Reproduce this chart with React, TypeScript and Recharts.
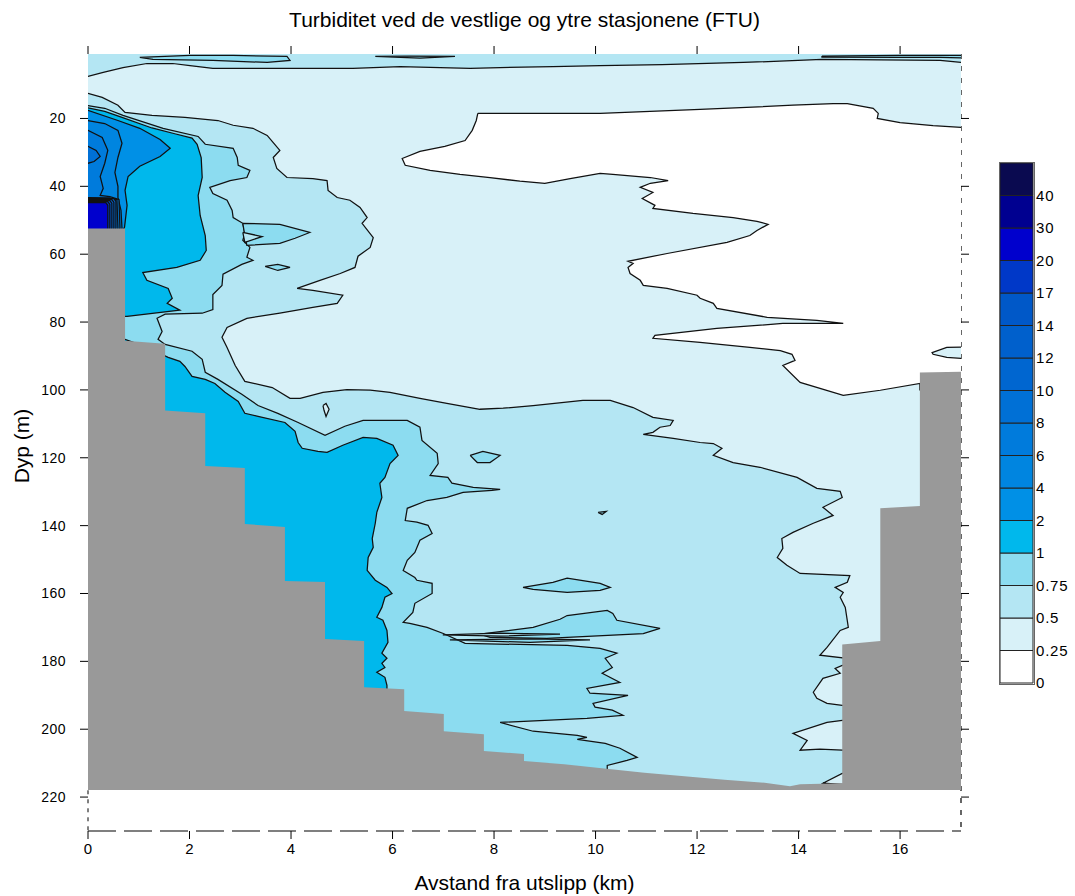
import React from "react";
import { ScatterChart, Scatter, XAxis, YAxis, ReferenceLine, BarChart, Bar } from "recharts";

type Pt = [number, number]; // [distance km, depth m]

const FONT = '"Liberation Sans", Arial, sans-serif';

// colour scale (FTU)
const levelLabels = ["0", "0.25", "0.5", "0.75", "1", "2", "4", "6", "8", "10", "12", "14", "17", "20", "30", "40"];
const levelColors = [
  "#ffffff", "#d8f1f8", "#b4e6f3", "#8cdcf0", "#00b8ec", "#0090e6", "#0085e0", "#007bdc",
  "#0070d6", "#0066d0", "#0060cc", "#0058c8", "#0038c8", "#0000cd", "#000090", "#0a0a50",
];

const distTicks = [0, 2, 4, 6, 8, 10, 12, 14, 16];
const depthTicks = [20, 40, 60, 80, 100, 120, 140, 160, 180, 200, 220];

// water column behind everything (0.25 - 0.5)
const waterBox: Pt[] = [[-0.5, -5], [17.7, -5], [17.7, 217.9], [-0.5, 217.9]];

// 0.5 contour near surface
const topBand: Pt[] = [
  [-0.5, -5], [17.7, -5], [17.7, 3.5], [17.2, 3.5], [16.79, 2.9], [14.46, 2.6], [12.91, 3.5], [11.31, 4.1],
  [10.09, 4.4], [9.16, 4.7], [7.53, 5.2], [6.15, 4.7], [5.22, 5.2], [2.46, 5.2], [2.01, 4.4], [1.67, 3.8],
  [1.16, 3.8], [0.69, 5.0], [0.3, 6.4], [0, 7.6], [-0.5, 7.9],
];
const topLensA: Pt[] = [[1.02, 2.0], [2.01, 1.4], [2.86, 1.4], [3.92, 1.7], [3.98, 2.9], [3.53, 3.5], [2.46, 2.9], [1.28, 2.6]];
const topLensB: Pt[] = [[5.66, 1.7], [6.34, 1.6], [7.23, 1.7], [6.54, 2.2]];
const topLensC: Pt[] = [[14.46, 1.6], [16.0, 1.4], [17.5, 1.4], [17.5, 2.2], [16.79, 2.0], [16.0, 2.0], [14.46, 1.9]];

// 0.5 contour, plume and bottom water
const c050: Pt[] = [
  [-0.5, 12.4], [0, 12.6], [0.28, 13.8], [0.59, 16.1], [0.73, 18.2], [1.26, 19.1], [1.91, 19.7], [2.56, 20.6],
  [2.86, 22.0], [3.25, 22.9], [3.53, 25.0], [3.65, 27.1], [3.78, 29.4], [3.65, 31.5], [3.72, 34.7], [3.92, 37.4],
  [4.43, 37.7], [4.71, 38.3], [4.73, 41.2], [4.91, 43.3], [5.16, 44.1], [5.36, 46.2], [5.5, 49.2], [5.4, 50.9],
  [5.62, 55.1], [5.56, 58.0], [5.32, 60.6], [5.26, 63.9], [4.97, 65.7], [4.57, 67.7], [4.12, 70.1], [4.43, 70.7],
  [5.02, 72.1], [4.91, 74.5], [4.43, 75.7], [3.78, 77.4], [3.13, 78.9], [2.74, 81.6], [2.64, 84.5], [2.74, 87.5],
  [2.9, 92.8], [3.09, 97.5], [3.63, 99.3], [3.98, 102.5], [4.18, 102.5], [4.63, 100.7], [5.1, 99.9], [5.56, 100.1],
  [5.95, 100.7], [6.54, 102.5], [7.07, 104.0], [7.72, 105.7], [8.18, 105.4], [8.77, 104.6], [9.75, 103.1],
  [10.29, 103.1], [10.74, 105.2], [11.13, 108.1], [11.53, 109.0], [11.47, 110.5], [11.27, 111.0], [11.13, 112.5],
  [10.94, 113.1], [11.53, 114.3], [12.06, 115.5], [12.32, 115.8], [12.49, 117.2], [12.32, 119.3], [12.71, 121.4],
  [13.24, 122.8], [13.97, 125.8], [14.36, 129.0], [14.82, 129.9], [14.86, 131.7], [14.48, 134.6], [14.68, 137.0],
  [14.29, 139.3], [13.89, 142.0], [13.67, 143.8], [13.69, 146.7], [13.58, 149.4], [13.77, 151.7], [14.03, 154.1],
  [15.01, 154.7], [14.96, 156.7], [14.72, 158.2], [14.88, 159.7], [14.82, 161.1], [14.92, 164.1], [14.98, 170.0],
  [14.82, 170.9], [14.56, 175.9], [14.42, 178.2], [14.95, 179.1], [14.95, 217.5], [-0.5, 217.5],
];
const holeA: Pt[] = [[4.63, 104.6], [4.69, 104.0], [4.75, 105.7], [4.69, 107.8], [4.65, 106.0]];
const sideLensA: Pt[] = [[15.1, 181.2], [14.86, 181.2], [14.72, 182.1], [14.82, 183.5], [14.48, 185.0], [14.29, 189.1], [14.36, 190.9], [14.56, 192.4], [14.86, 193.0], [15.1, 193.0]];
const sideLensB: Pt[] = [[15.1, 197.4], [14.86, 197.4], [14.56, 198.0], [13.89, 201.2], [14.17, 203.3], [14.03, 206.2], [14.42, 205.9], [14.86, 206.2], [15.1, 206.2]];
const sideLensC: Pt[] = [[15.1, 213.0], [14.86, 213.0], [14.48, 215.9], [15.1, 216.5]];

// below 0.25
const clearWater: Pt[] = [
  [7.68, 18.5], [8.91, 18.5], [10.09, 18.5], [12.06, 17.3], [13.89, 16.1], [14.68, 15.6], [14.96, 15.6],
  [15.47, 17.0], [15.57, 18.5], [15.55, 20.0], [16.0, 21.2], [16.65, 22.1], [17.2, 22.6], [17.5, 22.7],
  [17.5, 100], [16.39, 100], [16.39, 98.1], [15.61, 100.1], [14.88, 101.6], [14.03, 97.8], [13.69, 92.8],
  [13.93, 91.3], [13.87, 89.5], [13.64, 88.4], [13.04, 87.5], [12.06, 86.0], [11.13, 84.8], [11.17, 83.9],
  [12.39, 81.9], [13.69, 80.4], [14.88, 80.4], [14.36, 79.5], [13.38, 78.6], [12.39, 76.0], [12.32, 74.5],
  [12.06, 73.0], [12.0, 72.1], [11.41, 70.1], [10.94, 69.2], [10.88, 67.7], [10.68, 65.7], [10.64, 63.9],
  [10.74, 62.7], [10.64, 62.1], [11.41, 59.8], [12.59, 56.5], [13.04, 54.5], [13.18, 53.0], [13.4, 51.2],
  [13.18, 50.3], [12.71, 49.2], [11.92, 48.0], [11.13, 46.5], [11.17, 45.6], [10.92, 43.6], [11.13, 41.8],
  [10.88, 40.3], [11.08, 39.1], [11.43, 38.3], [11.08, 37.4], [10.34, 36.5], [10.09, 36.2], [9.5, 37.7],
  [9.0, 39.1], [8.51, 38.5], [7.92, 37.4], [7.33, 36.5], [6.74, 35.3], [6.25, 33.8], [6.19, 31.8], [6.54, 29.7],
  [7.03, 28.2], [7.43, 26.5], [7.57, 23.5], [7.65, 20.6],
];
const clearLens: Pt[] = [[17.5, 87.2], [16.92, 87.5], [16.63, 89.0], [16.65, 89.5], [16.92, 90.4], [17.5, 91.0]];

// 0.75 contour
const c075: Pt[] = [
  [-0.5, 16.0], [0, 16.2], [0.33, 17.0], [0.69, 19.1], [1.48, 22.9], [2.17, 25.3], [2.31, 27.6], [2.86, 28.8],
  [2.94, 31.5], [2.96, 33.8], [3.19, 35.3], [3.13, 37.4], [2.8, 38.3], [2.4, 40.3], [2.46, 42.1], [2.74, 44.1],
  [2.84, 47.1], [2.86, 49.2], [3.05, 50.9], [3.09, 53.9], [3.05, 55.9], [3.19, 58.0], [3.13, 60.9], [3.25, 61.8],
  [3.03, 63.0], [2.66, 65.9], [2.64, 69.2], [2.46, 71.9], [2.46, 76.3], [2.25, 77.4], [1.52, 77.7], [1.36, 78.9],
  [1.46, 82.8], [1.38, 85.1], [1.52, 86.6], [2.05, 88.6], [2.25, 91.0], [2.31, 94.8], [2.56, 96.9], [3.03, 101.3],
  [3.35, 104.6], [3.74, 106.9], [4.14, 109.6], [4.67, 113.4], [5.06, 110.7], [5.42, 109.0], [5.85, 109.0],
  [6.29, 109.0], [6.54, 111.0], [6.58, 114.9], [6.88, 118.7], [6.9, 121.7], [6.74, 125.2], [7.09, 125.8],
  [7.17, 127.5], [7.59, 128.7], [8.12, 129.3], [7.96, 129.6], [7.39, 130.2], [7.07, 131.7], [6.68, 132.6],
  [6.29, 134.9], [6.25, 138.5], [6.48, 139.0], [6.7, 139.9], [6.78, 142.3], [6.54, 144.3], [6.44, 147.9],
  [6.29, 150.2], [6.21, 153.2], [6.44, 155.3], [6.48, 156.1], [6.78, 157.0], [6.78, 160.0], [6.44, 162.9],
  [6.4, 165.6], [6.21, 168.5], [6.34, 168.8], [6.68, 170.0], [7.0, 171.8], [7.43, 174.7], [9.44, 175.3],
  [10.09, 176.2], [10.42, 177.6], [10.19, 179.1], [10.33, 181.8], [10.13, 183.5], [10.48, 186.2], [9.83, 188.0],
  [9.89, 189.4], [10.64, 190.0], [9.95, 192.4], [9.99, 193.5], [10.33, 194.4], [10.54, 195.9], [9.83, 196.8],
  [8.12, 198.0], [8.77, 200.6], [9.64, 201.8], [9.83, 202.4], [9.64, 203.0], [10.19, 204.2], [10.48, 205.6],
  [10.82, 208.3], [10.62, 209.2], [10.23, 210.7], [10.23, 217.5], [-0.5, 217.5],
];
const spikeLens: Pt[] = [[3.05, 50.9], [3.78, 51.2], [4.37, 53.6], [4.08, 55.3], [3.78, 56.8], [3.13, 57.4], [3.09, 54.5]];
const spikeInner: Pt[] = [[3.05, 53.6], [3.43, 54.8], [3.09, 56.5]];
const tinyLens: Pt[] = [[3.49, 63.6], [3.74, 63.0], [3.98, 63.9], [3.74, 64.8]];
const smallLens: Pt[] = [[7.53, 119.3], [7.78, 118.1], [8.12, 119.3], [7.92, 121.4], [7.67, 121.4]];
const dotLens: Pt[] = [[10.05, 136.1], [10.21, 135.8], [10.13, 136.7]];
const midLens: Pt[] = [[8.57, 158.2], [9.16, 156.7], [9.44, 155.5], [10.09, 157.0], [10.29, 158.2], [10.09, 159.1], [9.44, 159.7], [8.77, 158.8]];
const upperLens: Pt[] = [[7.72, 172.0], [8.77, 170.0], [9.3, 167.6], [9.44, 166.5], [10.23, 165.0], [10.34, 165.9], [10.42, 167.9], [11.27, 170.3], [10.94, 171.8], [10.34, 172.3], [9.04, 173.2], [7.92, 172.9]];
const sliverA: Pt[] = [[6.99, 172.2], [8.12, 171.7], [9.3, 172.0], [8.12, 172.6]];
const sliverB: Pt[] = [[7.13, 173.7], [8.71, 173.4], [9.89, 173.7], [8.71, 174.4]];

// 1.0 contour
const c100Upper: Pt[] = [
  [-0.5, 16.8], [0, 16.9], [0.33, 17.9], [0.67, 19.7], [1.26, 22.8], [1.71, 24.5], [2.05, 25.8], [2.15, 27.6],
  [2.23, 31.5], [2.25, 37.4], [2.17, 42.7], [2.21, 48.6], [2.31, 54.5], [2.33, 58.9], [2.21, 61.8], [1.75, 63.9],
  [1.08, 65.4], [1.16, 67.7], [1.58, 70.1], [1.66, 73.0], [1.56, 74.5], [1.81, 76.5], [0.77, 78.3], [0.5, 78.3], [-0.5, 78.3],
];
const c100Lower: Pt[] = [
  [0.5, 85.1], [0.73, 85.1], [1.12, 87.2], [1.58, 90.4], [1.81, 91.6], [1.91, 93.1], [2.05, 96.0], [2.31, 96.9],
  [2.5, 98.1], [2.7, 100.7], [2.96, 103.4], [3.09, 106.9], [3.35, 107.8], [3.88, 109.6], [4.08, 112.2], [4.14, 115.5],
  [4.22, 117.2], [4.53, 118.1], [4.71, 118.4], [5.02, 116.3], [5.42, 114.0], [5.69, 114.3], [6.01, 116.3],
  [6.11, 119.3], [5.95, 121.7], [5.85, 125.8], [5.75, 127.5], [5.79, 131.7], [5.69, 136.1], [5.66, 139.3],
  [5.6, 143.8], [5.62, 146.4], [5.52, 149.4], [5.5, 153.2], [5.66, 156.1], [5.89, 158.2], [5.99, 160.0],
  [5.85, 161.1], [5.79, 164.1], [5.69, 167.0], [5.81, 167.9], [5.89, 170.9], [5.91, 174.4], [5.79, 177.6],
  [5.89, 179.1], [5.79, 180.6], [5.85, 181.8], [5.69, 183.2], [5.85, 184.7], [5.89, 187.1], [5.89, 200], [0.5, 200],
];

// high values at the outfall
const c2: Pt[] = [[-0.5, 17.4], [0, 17.6], [0.59, 20.6], [1.02, 22.9], [1.42, 26.2], [1.62, 28.8], [1.42, 31.2], [1.02, 34.1], [0.79, 37.1], [0.73, 41.2], [0.77, 45.6], [0.72, 52.0], [0.6, 56], [-0.5, 56]];
const c4: Pt[] = [[-0.5, 20.4], [0, 20.6], [0.33, 21.5], [0.59, 23.5], [0.67, 27.3], [0.59, 31.5], [0.53, 35.9], [0.59, 40.0], [0.59, 43.3], [0.65, 47.1], [0.67, 52.4], [0.6, 56], [-0.5, 56]];
const c6: Pt[] = [[-0.5, 23.3], [0, 23.5], [0.28, 25.6], [0.39, 29.4], [0.33, 33.2], [0.24, 37.1], [0.3, 40.6], [0.24, 42.7], [0.43, 43.0], [0.61, 43.9], [0.63, 52.4], [0.5, 56], [-0.5, 56]];
const c8Tip: Pt[] = [[-0.5, 28.1], [0, 28.2], [0.16, 29.4], [0.24, 31.2], [0.12, 32.7], [0, 33.2], [-0.5, 33.3]];
const c8Block: Pt[] = [[-0.5, 43.3], [0.43, 43.4], [0.57, 43.9], [0.59, 52.4], [0.5, 56], [-0.5, 56]];
// dense block just above the first station: right edge (km) and top (m) per level 10..20
const blockEdge = [0.55, 0.51, 0.47, 0.43, 0.39];
const blockTop = [43.6, 43.9, 44.2, 44.5, 44.8];

// bottom profile
const bathymetry: Pt[] = [
  [-0.5, 52.4], [0.73, 52.4], [0.73, 85.5], [1.52, 86.4], [1.52, 106.1], [2.31, 106.9], [2.31, 122.4], [3.09, 123.0],
  [3.09, 139.5], [3.88, 140.4], [3.88, 156.3], [4.67, 156.6], [4.67, 173.4], [5.44, 174.0], [5.44, 187.6],
  [6.23, 188.2], [6.23, 194.6], [7.01, 195.5], [7.01, 200.6], [7.8, 201.5], [7.8, 206.4], [8.59, 207.3],
  [8.59, 209.4], [9.38, 210.3], [10.17, 211.6], [10.96, 212.8], [11.75, 213.9], [12.54, 214.9], [13.33, 215.8],
  [13.83, 216.8], [14.03, 216.2], [14.86, 215.9], [14.86, 175.0], [15.61, 174.0], [15.61, 134.9], [16.39, 134.2],
  [16.39, 94.9], [17.5, 94.6], [17.5, 217.9], [-0.5, 217.9],
];

const blocks: Pt[][] = blockEdge.map((e, i) => [[-0.5, blockTop[i]], [e - 0.04, blockTop[i]], [e, blockTop[i] + 0.8], [e, 52.4], [0.4, 56], [-0.5, 56]]);

const C = levelColors;
const layers: { pts: Pt[]; color: string; edge: boolean }[] = [
  { pts: waterBox, color: C[1], edge: false },
  { pts: topBand, color: C[2], edge: true },
  { pts: topLensA, color: C[3], edge: true },
  { pts: topLensB, color: C[3], edge: true },
  { pts: topLensC, color: C[3], edge: true },
  { pts: c050, color: C[2], edge: true },
  { pts: holeA, color: C[1], edge: true },
  { pts: sideLensA, color: C[1], edge: true },
  { pts: sideLensB, color: C[1], edge: true },
  { pts: sideLensC, color: C[1], edge: true },
  { pts: clearWater, color: C[0], edge: true },
  { pts: clearLens, color: C[1], edge: true },
  { pts: c075, color: C[3], edge: true },
  { pts: spikeLens, color: C[3], edge: true },
  { pts: spikeInner, color: C[2], edge: true },
  { pts: tinyLens, color: C[3], edge: true },
  { pts: smallLens, color: C[3], edge: true },
  { pts: dotLens, color: C[3], edge: true },
  { pts: midLens, color: C[3], edge: true },
  { pts: upperLens, color: C[3], edge: true },
  { pts: sliverA, color: C[2], edge: true },
  { pts: sliverB, color: C[3], edge: true },
  { pts: c100Upper, color: C[4], edge: true },
  { pts: c100Lower, color: C[4], edge: true },
  { pts: c2, color: C[5], edge: true },
  { pts: c4, color: C[6], edge: true },
  { pts: c6, color: C[7], edge: true },
  { pts: c8Tip, color: C[8], edge: true },
  { pts: c8Block, color: C[8], edge: true },
  ...blocks.map((b, i) => ({ pts: b, color: C[9 + i], edge: true })),
  { pts: bathymetry, color: "#999999", edge: false },
];

const toRows = (pts: Pt[]) => pts.concat([pts[0]]).map(([km, depth]) => ({ km, depth }));
const noDot = () => <g />;
const noTick = () => <g />;

const colorRow = [Object.fromEntries(levelColors.map((_, i) => [`b${i}`, 1]))];

const tickStyle = { fill: "#000", fontSize: 14, fontFamily: FONT };

export default function App() {
  return (
    <div style={{ position: "absolute", left: 0, top: 0, width: 1075, height: 896, background: "#fff", fontFamily: FONT, color: "#000" }}>
      <div style={{ position: "absolute", left: 88, width: 873, top: 8, textAlign: "center", fontSize: 21 }}>
        Turbiditet ved de vestlige og ytre stasjonene (FTU)
      </div>
      <div style={{ position: "absolute", left: 88, width: 873, top: 871, textAlign: "center", fontSize: 21 }}>
        Avstand fra utslipp (km)
      </div>
      <div style={{ position: "absolute", left: 22, top: 446, transform: "translate(-50%, -50%) rotate(-90deg)", fontSize: 21, whiteSpace: "nowrap" }}>
        Dyp (m)
      </div>

      <div style={{ position: "absolute", left: 0, top: 0 }}>
        <ScatterChart width={1000} height={896} margin={{ top: 44, right: 27, bottom: 35, left: 28 }}>
          <XAxis xAxisId={0} type="number" dataKey="km" domain={[0, 17.2]} allowDataOverflow ticks={distTicks}
            height={30} tickSize={8} tickMargin={4} axisLine={false} tickLine={{ stroke: "#000" }} tick={{ ...tickStyle, fontSize: 15 }} />
          <XAxis xAxisId="top" orientation="top" type="number" dataKey="km" domain={[0, 17.2]} allowDataOverflow ticks={distTicks}
            height={10} tickSize={8} axisLine={false} tickLine={{ stroke: "#000" }} tick={noTick} />
          <YAxis yAxisId={0} type="number" dataKey="depth" domain={[1, 230]} reversed allowDataOverflow ticks={depthTicks}
            width={60} tickSize={8} tickMargin={14} axisLine={false} tickLine={{ stroke: "#000" }} tick={{ ...tickStyle, fontSize: 14, letterSpacing: 0.5 }} />
          <YAxis yAxisId="right" orientation="right" type="number" dataKey="depth" domain={[1, 230]} reversed allowDataOverflow ticks={depthTicks}
            width={12} tickSize={8} axisLine={false} tickLine={{ stroke: "#000" }} tick={noTick} />
          {layers.map((l, i) => (
            <Scatter
              key={i}
              data={toRows(l.pts)}
              shape={noDot}
              line={{ fill: l.color, stroke: l.edge ? "#111111" : "none", strokeWidth: 1.25 }}
              lineType="joint"
              lineJointType="linear"
              legendType="none"
              isAnimationActive={false}
            />
          ))}
          <ReferenceLine segment={[{ x: 0, y: 218 }, { x: 0, y: 230 }]} stroke="#000" strokeDasharray="4 5" ifOverflow="visible" />
          <ReferenceLine segment={[{ x: 17.2, y: 1 }, { x: 17.2, y: 230 }]} stroke="#000" strokeWidth={1.2} strokeDasharray="5 7" ifOverflow="visible" />
          <ReferenceLine segment={[{ x: 0, y: 230 }, { x: 17.2, y: 230 }]} stroke="#000" strokeWidth={1.2} strokeDasharray="28 8" ifOverflow="visible" />
        </ScatterChart>
      </div>

      <div style={{ position: "absolute", left: 1000, top: 153 }}>
        <BarChart width={75} height={540} data={colorRow} margin={{ top: 10, right: 0, bottom: 10, left: 0 }} barCategoryGap={0}>
          <XAxis hide />
          <YAxis orientation="right" type="number" domain={[0, 16]} ticks={levelLabels.map((_, i) => i)} interval={0}
            tickFormatter={(v: number) => levelLabels[v]} width={42} axisLine={false} tickLine={false} tickSize={0} tickMargin={3}
            tick={{ ...tickStyle, fontSize: 15, letterSpacing: 0.8 }} />
          {levelColors.map((c, i) => (
            <Bar key={i} dataKey={`b${i}`} stackId="cb" fill={c} stroke="#222" strokeWidth={1} isAnimationActive={false} />
          ))}
        </BarChart>
      </div>
      <div style={{ position: "absolute", left: 999, top: 162, width: 34, height: 521, border: "1px solid #666", pointerEvents: "none" }} />
    </div>
  );
}
